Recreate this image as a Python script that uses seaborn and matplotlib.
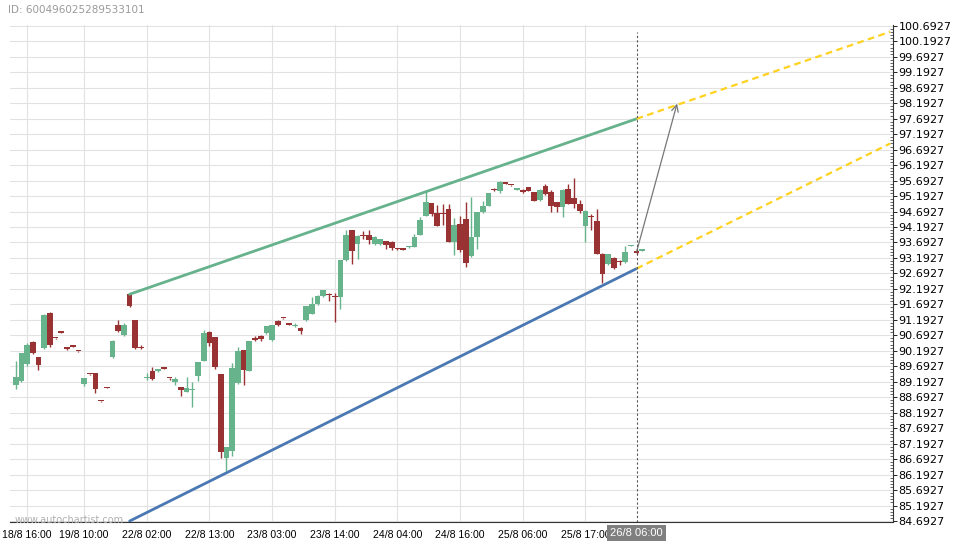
import numpy as np
import pandas as pd
import seaborn as sns
import matplotlib.pyplot as plt
from matplotlib.ticker import FixedLocator

# ------------ data ------------
opens = [89.09, 89.22, 89.78, 90.47, 89.98, 90.28, 91.41, 90.61, 90.80, 90.28,
         90.34, 90.18, 89.12, 89.44, 89.48, 88.57, 89.00, 90.00, 91.02, 90.70,
         92.02, 91.18, 90.30, 89.32, 89.53, 89.53, 89.63, 89.31, 89.19, 89.02,
         88.87, 88.92, 89.38, 89.87, 90.79, 90.63, 89.44, 86.74, 86.96, 89.15,
         90.21, 89.55, 90.57, 90.68, 90.76, 90.54, 91.17, 91.25, 91.05, 90.99,
         90.94, 91.18, 91.39, 91.69, 91.96, 92.04, 91.94, 91.93, 93.12, 94.08,
         93.65, 93.93, 93.92, 93.63, 93.65, 93.74, 93.72, 93.52, 93.47, 93.54,
         93.55, 93.95, 94.55, 94.97, 94.65, 94.63, 94.78, 93.70, 94.29, 94.45,
         93.24, 93.88, 94.67, 94.88, 95.39, 95.34, 95.64, 95.55, 95.40, 95.40,
         95.48, 95.31, 95.08, 95.53, 95.33, 95.00, 94.83, 95.42, 95.12, 94.94,
         94.24, 94.52, 94.40, 93.33, 93.00, 93.20, 93.06, 93.05, 93.58, 93.42,
         93.43]
highs = [89.87, 90.12, 90.46, 90.52, 89.98, 91.38, 91.43, 90.62, 90.81, 90.29,
         90.35, 90.19, 89.32, 89.45, 89.49, 88.58, 89.01, 90.53, 91.20, 91.09,
         92.07, 91.19, 90.38, 89.49, 89.68, 89.61, 89.64, 89.32, 89.33, 89.03,
         89.33, 89.19, 89.83, 90.86, 90.82, 90.64, 89.45, 87.08, 89.81, 90.31,
         90.23, 90.52, 90.68, 90.70, 91.00, 91.03, 91.18, 91.26, 91.06, 91.09,
         90.95, 91.64, 91.93, 92.00, 92.17, 92.06, 92.05, 93.14, 94.11, 94.11,
         93.92, 94.05, 94.08, 93.89, 93.80, 93.75, 93.73, 93.53, 93.48, 93.57,
         93.96, 94.52, 95.37, 94.98, 94.90, 94.94, 94.94, 94.47, 94.56, 94.99,
         95.15, 94.69, 95.02, 95.30, 95.45, 95.67, 95.65, 95.56, 95.45, 95.41,
         95.49, 95.33, 95.42, 95.58, 95.40, 95.01, 95.41, 95.58, 95.77, 95.05,
         94.74, 94.62, 94.78, 93.34, 93.33, 93.21, 93.12, 93.59, 93.60, 93.45,
         93.44]
lows = [88.95, 89.20, 89.69, 90.10, 89.58, 90.26, 90.32, 90.58, 90.77, 90.23,
        90.32, 90.16, 89.07, 89.42, 88.84, 88.55, 88.98, 89.97, 90.81, 90.68,
        91.62, 90.26, 90.26, 89.25, 89.26, 89.52, 89.61, 89.26, 89.10, 88.74,
        88.86, 88.39, 89.22, 89.86, 90.34, 89.62, 86.72, 86.31, 86.80, 89.13,
        89.09, 89.53, 90.50, 90.52, 90.74, 90.52, 91.00, 91.22, 91.03, 90.96,
        90.72, 91.16, 91.37, 91.67, 91.94, 91.80, 91.13, 91.55, 93.10, 92.99,
        93.15, 93.80, 93.65, 93.60, 93.62, 93.48, 93.44, 93.45, 93.45, 93.53,
        93.54, 93.93, 94.55, 94.55, 94.22, 94.25, 93.72, 93.29, 93.40, 92.89,
        93.22, 93.49, 94.65, 94.86, 95.35, 95.30, 95.57, 95.53, 95.39, 95.28,
        95.36, 95.02, 95.04, 95.24, 94.69, 94.68, 94.51, 94.93, 94.80, 94.63,
        93.72, 94.10, 93.33, 92.39, 92.98, 92.85, 92.95, 93.04, 93.57, 93.33,
        93.42]
closes = [89.34, 90.12, 90.38, 90.12, 89.74, 91.35, 90.38, 90.59, 90.78, 90.26,
          90.33, 90.17, 89.31, 89.43, 88.97, 88.56, 88.99, 90.51, 90.84, 91.02,
          91.65, 90.29, 90.28, 89.34, 89.28, 89.60, 89.62, 89.30, 89.29, 88.92,
          88.99, 88.94, 89.82, 90.76, 90.43, 89.67, 86.93, 87.08, 89.63, 90.18,
          89.58, 90.50, 90.55, 90.56, 90.98, 91.02, 91.02, 91.24, 91.04, 91.04,
          90.83, 91.64, 91.71, 91.96, 92.15, 92.00, 91.93, 93.12, 93.95, 93.42,
          93.90, 93.91, 93.76, 93.87, 93.79, 93.60, 93.52, 93.47, 93.46, 93.56,
          93.87, 94.41, 95.01, 94.62, 94.22, 94.62, 93.72, 94.26, 93.46, 93.03,
          93.86, 94.69, 94.88, 95.29, 95.38, 95.64, 95.58, 95.54, 95.44, 95.31,
          95.37, 95.04, 95.40, 95.26, 94.88, 94.83, 95.40, 94.94, 94.92, 94.72,
          94.72, 94.51, 93.33, 92.68, 93.33, 92.87, 93.05, 93.40, 93.59, 93.35,
          93.43]

tick_pos = [2, 12, 23, 34, 45, 56, 67, 78, 89, 100]
tick_labels = ["18/8 16:00", "19/8 10:00", "22/8 02:00", "22/8 13:00", "23/8 03:00",
               "23/8 14:00", "24/8 04:00", "24/8 16:00", "25/8 06:00", "25/8 17:00"]
now_idx = 109
now_label = "26/8 06:00"

# channel lines (bar index, price)
upper_x = [20, 109]
upper_y = [92.02, 97.69]
lower_x = [20, 109]
lower_y = [84.69, 92.85]
proj_x = [109, 153.5]
proj_upper = [97.69, 100.50]
proj_lower = [92.85, 96.89]
arrow_from = (109, 93.40)
arrow_to = (116.1, 98.18)

y_first = 84.6927
y_labels = [f"{y_first + 0.5 * k:.4f}" for k in range(33)]

GREEN = "#67b38c"
RED = "#993333"

sns.set_theme(style="white")
plt.rcParams['font.family'] = ['DejaVu Sans']

df = pd.DataFrame({"o": opens, "h": highs, "l": lows, "c": closes})
df["i"] = np.arange(len(df))
df["up"] = df["c"] >= df["o"]
df["bottom"] = df[["o", "c"]].min(axis=1)
df["height"] = (df["c"] - df["o"]).abs().clip(lower=0.04)
colors = np.where(df["up"], GREEN, RED)

fig = plt.figure(figsize=(9.6, 5.5), dpi=100)
ax = fig.add_axes([10 / 960, 28 / 550, 883 / 960, 497 / 550])

# grid
ax.set_axisbelow(True)
yt = [float(s) for s in y_labels]
ax.set_yticks(yt)
ax.set_yticklabels(y_labels)
ax.set_xticks(tick_pos)
ax.set_xticklabels(tick_labels, family=['Liberation Sans', 'DejaVu Sans'])
ax.grid(True, color="#e2e2e2", lw=0.8)

# candles
ax.vlines(df["i"], df["l"], df["h"], colors=colors, lw=1.0, zorder=2)
ax.bar(df["i"], df["height"], bottom=df["bottom"], width=1.0, color=colors,
       linewidth=0, zorder=3)

# channel + projections
sns.lineplot(x=upper_x, y=upper_y, ax=ax, color="#66b28c", lw=2, zorder=4)
sns.lineplot(x=lower_x, y=lower_y, ax=ax, color="#4a78b2", lw=2, zorder=4)
sns.lineplot(x=proj_x, y=proj_upper, ax=ax, color="#ffd21f", lw=1.6,
             linestyle=(0, (3, 2)), zorder=4)
sns.lineplot(x=proj_x, y=proj_lower, ax=ax, color="#ffd21f", lw=1.6,
             linestyle=(0, (3, 2)), zorder=4)
ax.annotate("", xy=arrow_to, xytext=arrow_from,
            arrowprops=dict(arrowstyle="->", color="#777777", lw=0.9,
                            mutation_scale=12, shrinkA=0, shrinkB=0), zorder=5)

ax.vlines(now_idx, 84.66, 100.5, colors="#555555", lw=0.8,
          linestyles=(0, (2, 2)), zorder=5)

ax.set_xlim(-1, 154)
ax.set_ylim(84.66, 100.72)

# axes styling
for side in ["left", "top"]:
    ax.spines[side].set_visible(False)
for side in ["right", "bottom"]:
    ax.spines[side].set_visible(True)
    ax.spines[side].set_color("#333333")
    ax.spines[side].set_linewidth(0.8)
ax.yaxis.tick_right()
ax.tick_params(axis="y", which="major", direction="out", length=3, pad=1,
               labelsize=8, colors="black", width=0.6)
ax.tick_params(axis="x", which="major", direction="out", length=4, pad=2,
               labelsize=7.6, colors="black", width=0.6)
ax.yaxis.set_minor_locator(FixedLocator([y_first + 0.1 * k for k in range(161)]))
ax.xaxis.set_minor_locator(FixedLocator(np.arange(0, 154, 2.75)))
ax.tick_params(axis="y", which="minor", direction="in", length=2, width=0.5,
               right=True, left=False)
ax.tick_params(axis="x", which="minor", direction="out", length=2, width=0.5)
ax.set_xlabel("")
ax.set_ylabel("")

ax.text(now_idx, -0.012, now_label, transform=ax.get_xaxis_transform(),
        ha="center", va="top", fontsize=8, color="white",
        family=['Liberation Sans', 'DejaVu Sans'], zorder=10, clip_on=False,
        bbox=dict(boxstyle="square,pad=0.3", fc="#7f7f7f", ec="none"))

fig.text(8 / 960, 1 - 10 / 550, "ID: 600496025289533101", color="#9a9a9a",
         fontsize=7.5, va="center", ha="left")
fig.text(15 / 960, 1 - 520 / 550, "www.autochartist.com", color="#b0b0b0",
         fontsize=7, va="center", ha="left")

fig.savefig("out.png", dpi=100)
